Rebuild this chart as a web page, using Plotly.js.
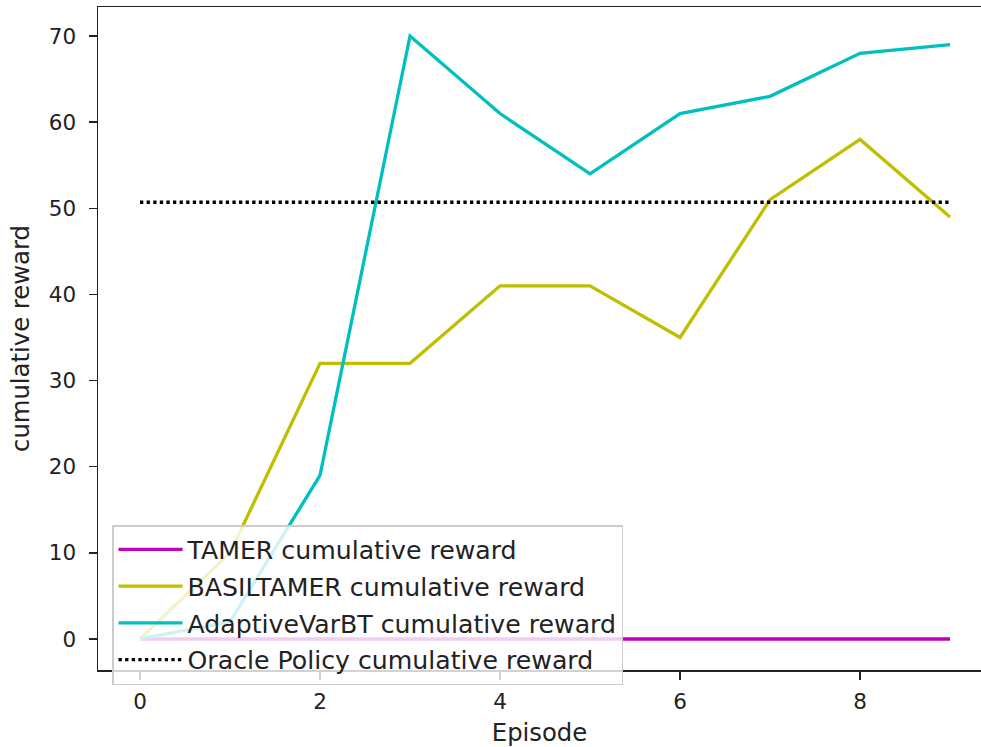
<!DOCTYPE html>
<html>
<head>
<meta charset="utf-8">
<script src="https://cdn.plot.ly/plotly-3.0.1.min.js"></script>
<style>html,body{margin:0;padding:0;background:#fff;overflow:hidden}#chart{width:981px;height:747px}</style>
</head>
<body>
<div id="chart"></div>
<script>
const episodes = [0, 1, 2, 3, 4, 5, 6, 7, 8, 9];
const tamer = [0, 0, 0, 0, 0, 0, 0, 0, 0, 0];
const basilTamer = [0, 10, 32, 32, 41, 41, 35, 51, 58, 49];
const adaptiveVarBT = [0, 2, 19, 70, 61, 54, 61, 63, 68, 69];
const oracle = [50.7, 50.7, 50.7, 50.7, 50.7, 50.7, 50.7, 50.7, 50.7, 50.7];
const seriesNames = ["TAMER cumulative reward", "BASILTAMER cumulative reward", "AdaptiveVarBT cumulative reward", "Oracle Policy cumulative reward"];
const xTicks = [0, 2, 4, 6, 8];
const yTicks = [0, 10, 20, 30, 40, 50, 60, 70];

const font = {family: "DejaVu Sans", size: 24.3, color: "#222"};
const legendFont = {family: "DejaVu Sans", size: 25.2, color: "#222"};
const tickFont = {family: "DejaVu Sans", size: 21.5, color: "#222"};
const lw = 3.3;
const traces = [
  {x: episodes, y: tamer, name: seriesNames[0], legendgroup: "a", mode: "lines", line: {color: "#bf00bf", width: lw}},
  {x: episodes, y: basilTamer, name: seriesNames[1], legendgroup: "b", mode: "lines", line: {color: "#bfbf00", width: lw}},
  {x: episodes, y: adaptiveVarBT, name: seriesNames[2], legendgroup: "c", mode: "lines", line: {color: "#00bfbf", width: lw}},
  {x: episodes, y: oracle, name: seriesNames[3], legendgroup: "d", mode: "lines", line: {color: "#000", width: lw, dash: "dot"}}
];
const layout = {
  width: 981, height: 747,
  margin: {l: 98, r: 0, t: 7, b: 77},
  paper_bgcolor: "#fff", plot_bgcolor: "#fff",
  font: font,
  showlegend: true,
  legend: {
    x: 0.0159, y: 0.2187, xanchor: "left", yanchor: "top",
    bgcolor: "rgba(255,255,255,0.8)", bordercolor: "#cccccc", borderwidth: 1.5,
    font: legendFont, tracegroupgap: 1, itemwidth: 64
  },
  xaxis: {
    range: [-0.4667, 9.344], tickvals: xTicks, ticktext: xTicks.map(String),
    showgrid: false, zeroline: false, showline: true, linecolor: "#222", linewidth: 1.5,
    mirror: true, ticks: "outside", ticklen: 8, tickwidth: 1.5, tickcolor: "#222",
    tickfont: tickFont, ticklabelstandoff: 4,
    title: {text: "Episode", font: font, standoff: 12}
  },
  yaxis: {
    range: [-3.6, 73.37], tickvals: yTicks, ticktext: yTicks.map(String),
    showgrid: false, zeroline: false, showline: true, linecolor: "#222", linewidth: 1.5,
    ticks: "outside", ticklen: 8, tickwidth: 1.5, tickcolor: "#222",
    tickfont: tickFont, ticklabelstandoff: 8,
    title: {text: "cumulative reward", font: font, standoff: 12}
  }
};
Plotly.newPlot("chart", traces, layout, {displayModeBar: false, staticPlot: true});
</script>
</body>
</html>
